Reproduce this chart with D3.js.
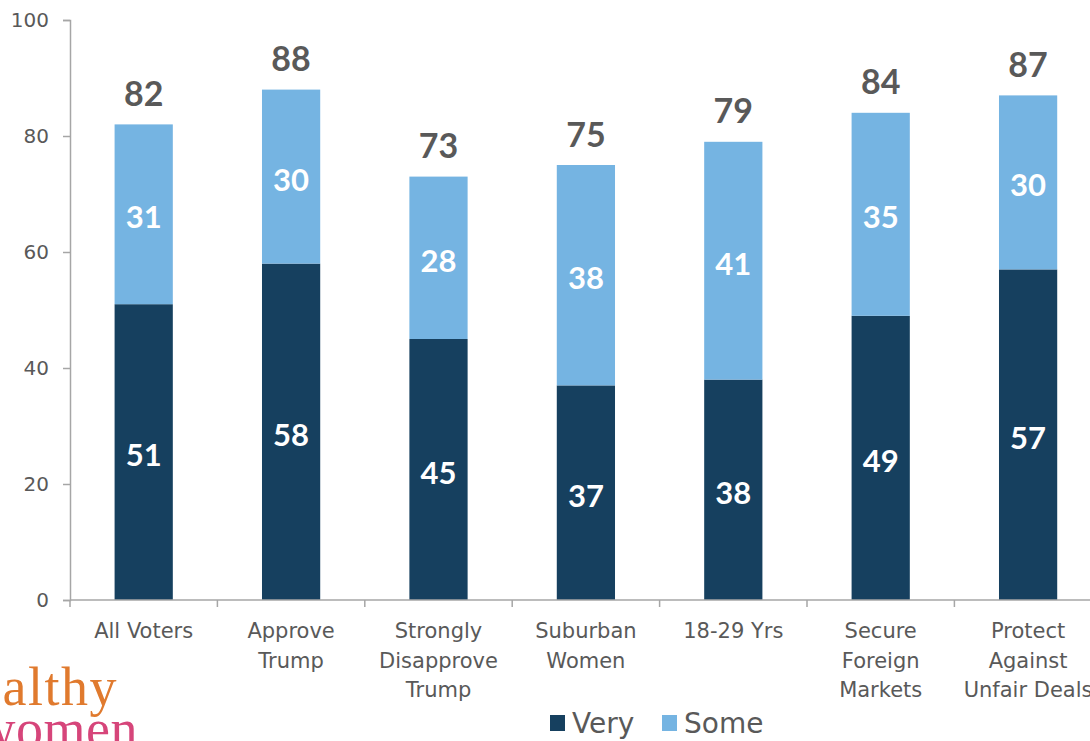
<!DOCTYPE html>
<html>
<head>
<meta charset="utf-8">
<script src="https://cdn.jsdelivr.net/npm/d3@7"></script>
<style>
  html, body { margin: 0; padding: 0; background: #fff; }
  svg { display: block; }
</style>
</head>
<body>
<svg id="chart" width="1090" height="741"></svg>
<script>
// Groups along the x axis (each may wrap onto several lines)
const categories = [
  ["All Voters"],
  ["Approve", "Trump"],
  ["Strongly", "Disapprove", "Trump"],
  ["Suburban", "Women"],
  ["18-29 Yrs"],
  ["Secure", "Foreign", "Markets"],
  ["Protect", "Against", "Unfair Deals"]
];
const seriesNames = ["Very", "Some"];
const veryValues = [51, 58, 45, 37, 38, 49, 57];
const someValues = [31, 30, 28, 38, 41, 35, 30];
const yTicks = [0, 20, 40, 60, 80, 100];

const colors = { Very: "#16405f", Some: "#75b4e2" };
const textGray = "#595959";
const axisGray = "#a6a6a6";

const svg = d3.select("#chart");
const margin = { left: 70, top: 20, bottom: 141 };
const plotW = 7 * 147.4;
const plotH = 741 - margin.top - margin.bottom;

const keys = categories.map((c, i) => i);
const x = d3.scaleBand().domain(keys).range([margin.left, margin.left + plotW]).padding(0);
const barW = x.bandwidth() * 0.395;
const y = d3.scaleLinear().domain([0, 100]).range([margin.top + plotH, margin.top]);

const rows = keys.map(i => ({ i, Very: veryValues[i], Some: someValues[i] }));
const stacked = d3.stack().keys(seriesNames)(rows);

// Y axis
const yAxis = svg.append("g")
  .attr("transform", `translate(${margin.left},0)`)
  .call(d3.axisLeft(y).tickValues(yTicks).tickSize(7).tickPadding(14));
yAxis.select(".domain").attr("stroke", axisGray).attr("stroke-width", 1.5);
yAxis.selectAll(".tick line").attr("stroke", axisGray).attr("stroke-width", 1.5);
yAxis.selectAll(".tick text")
  .attr("fill", textGray)
  .style("font-family", "DejaVu Sans")
  .style("font-size", "20px");

// Stacked bars
const layers = svg.append("g").selectAll("g")
  .data(stacked).join("g")
  .attr("fill", d => colors[d.key]);
layers.selectAll("rect")
  .data(d => d).join("rect")
  .attr("x", d => x(d.data.i) + (x.bandwidth() - barW) / 2)
  .attr("width", barW)
  .attr("y", d => y(d[1]))
  .attr("height", d => y(d[0]) - y(d[1]));

// Segment labels
layers.selectAll("text")
  .data(d => d).join("text")
  .attr("x", d => x(d.data.i) + x.bandwidth() / 2)
  .attr("y", d => y((d[0] + d[1]) / 2) + 2)
  .attr("text-anchor", "middle")
  .attr("dominant-baseline", "central")
  .attr("fill", "#ffffff")
  .style("font-family", "Lato")
  .style("font-weight", 700)
  .style("font-size", "31px")
  .text(d => d[1] - d[0]);

// Totals above bars
svg.append("g").selectAll("text")
  .data(rows).join("text")
  .attr("x", d => x(d.i) + x.bandwidth() / 2)
  .attr("y", d => y(d.Very + d.Some) - 32)
  .attr("text-anchor", "middle")
  .attr("dominant-baseline", "central")
  .attr("fill", textGray)
  .style("font-family", "Lato")
  .style("font-weight", 700)
  .style("font-size", "34px")
  .text(d => d.Very + d.Some);

// X axis: baseline with ticks between categories
const xAxis = svg.append("g");
const baseY = y(0);
xAxis.append("line")
  .attr("x1", margin.left).attr("x2", margin.left + plotW)
  .attr("y1", baseY).attr("y2", baseY)
  .attr("stroke", axisGray).attr("stroke-width", 1.5);
xAxis.selectAll("line.tick")
  .data(keys.concat([keys.length])).join("line")
  .attr("class", "tick")
  .attr("x1", d => margin.left + d * x.step())
  .attr("x2", d => margin.left + d * x.step())
  .attr("y1", baseY).attr("y2", baseY + 7)
  .attr("stroke", axisGray).attr("stroke-width", 1.5);

const catLabels = xAxis.selectAll("text.cat")
  .data(rows).join("text")
  .attr("class", "cat")
  .attr("x", d => x(d.i) + x.bandwidth() / 2)
  .attr("y", baseY + 38)
  .attr("text-anchor", "middle")
  .attr("fill", textGray)
  .style("font-family", "DejaVu Sans")
  .style("font-size", "21px");
catLabels.selectAll("tspan")
  .data(d => categories[d.i].map((t, k) => ({ t, k })))
  .join("tspan")
  .attr("x", function () { return d3.select(this.parentNode).attr("x"); })
  .attr("dy", d => d.k === 0 ? 0 : 29.5)
  .text(d => d.t);

// Legend
const legend = svg.append("g").attr("transform", "translate(550,715)");
const legendItems = legend.selectAll("g")
  .data(seriesNames).join("g")
  .attr("transform", (d, i) => `translate(${i * 112},0)`);
legendItems.append("rect")
  .attr("width", 15).attr("height", 16)
  .attr("fill", d => colors[d]);
legendItems.append("text")
  .attr("x", 22).attr("y", 8)
  .attr("dominant-baseline", "central")
  .attr("fill", textGray)
  .style("font-family", "DejaVu Sans")
  .style("font-size", "28px")
  .text(d => d);

// Organisation wordmark, bottom left (runs off the left edge)
const mark = svg.append("g").style("font-family", "Liberation Serif");
mark.append("text")
  .attr("x", 118).attr("y", 705)
  .attr("text-anchor", "end")
  .attr("fill", "#e07a2e")
  .style("font-size", "54px")
  .style("letter-spacing", "1.5px")
  .text("healthy");
mark.append("text")
  .attr("x", 138).attr("y", 747)
  .attr("text-anchor", "end")
  .attr("fill", "#d6457a")
  .style("font-size", "54px")
  .style("letter-spacing", "0.5px")
  .text("women");
</script>
</body>
</html>
